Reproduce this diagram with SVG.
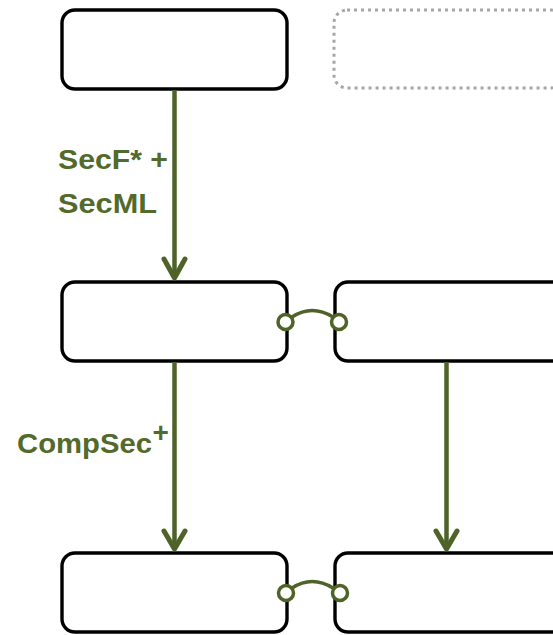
<svg xmlns="http://www.w3.org/2000/svg" width="553" height="635" viewBox="0 0 553 635">
  <style>
    .box { fill: #ffffff; stroke: #000000; stroke-width: 3.4; }
    .ghost { fill: #ffffff; stroke: #a6a6a6; stroke-width: 3; stroke-dasharray: 3 4; }
    .flow { fill: none; stroke: #4f6228; stroke-width: 4.5; }
    .head { fill: none; stroke: #4f6228; stroke-width: 5; stroke-linecap: round; stroke-linejoin: round; }
    .link { fill: none; stroke: #4f6228; stroke-width: 3.5; }
    .port { fill: #ffffff; stroke: #4f6228; stroke-width: 3.5; }
    .lbl { font-family: "Liberation Sans", Arial, sans-serif; font-weight: bold; font-size: 28px; fill: #526a2b; }
  </style>

  <g id="top-left"><rect class="box" x="62" y="10" width="225" height="79" rx="13"/></g>
  <g id="top-right"><rect class="ghost" x="334" y="10" width="230" height="78" rx="13"/></g>
  <g id="mid-left"><rect class="box" x="62" y="282" width="225" height="79" rx="13"/></g>
  <g id="mid-right"><rect class="box" x="335" y="282" width="230" height="79" rx="13"/></g>
  <g id="bot-left"><rect class="box" x="62" y="553" width="225" height="79" rx="13"/></g>
  <g id="bot-right"><rect class="box" x="335" y="553" width="230" height="79" rx="13"/></g>

  <g id="connectors">
    <line class="flow" x1="174.5" y1="90" x2="174.5" y2="278"/>
    <polyline class="head" points="164,259 174.5,278 185,259"/>
    <line class="flow" x1="174.5" y1="362" x2="174.5" y2="549"/>
    <polyline class="head" points="164,531 174.5,549 185,531"/>
    <line class="flow" x1="446.5" y1="362" x2="446.5" y2="549"/>
    <polyline class="head" points="436,531 446.5,549 457,531"/>

    <path class="link" d="M292,317 Q312,304 333,317"/>
    <circle class="port" cx="285.5" cy="322" r="7.5"/>
    <circle class="port" cx="339" cy="322" r="7.5"/>

    <path class="link" d="M292,588 Q312,575 333,588"/>
    <circle class="port" cx="286" cy="593" r="7.5"/>
    <circle class="port" cx="340" cy="593" r="7.5"/>
  </g>

  <g id="labels">
    <text class="lbl" x="58" y="169" textLength="110" lengthAdjust="spacingAndGlyphs">SecF* +</text>
    <text class="lbl" x="58" y="213" textLength="99" lengthAdjust="spacingAndGlyphs">SecML</text>
    <text class="lbl" x="17" y="453" textLength="135" lengthAdjust="spacingAndGlyphs">CompSec</text>
    <text class="lbl" x="152.5" y="442" font-size="15">+</text>
  </g>
</svg>
